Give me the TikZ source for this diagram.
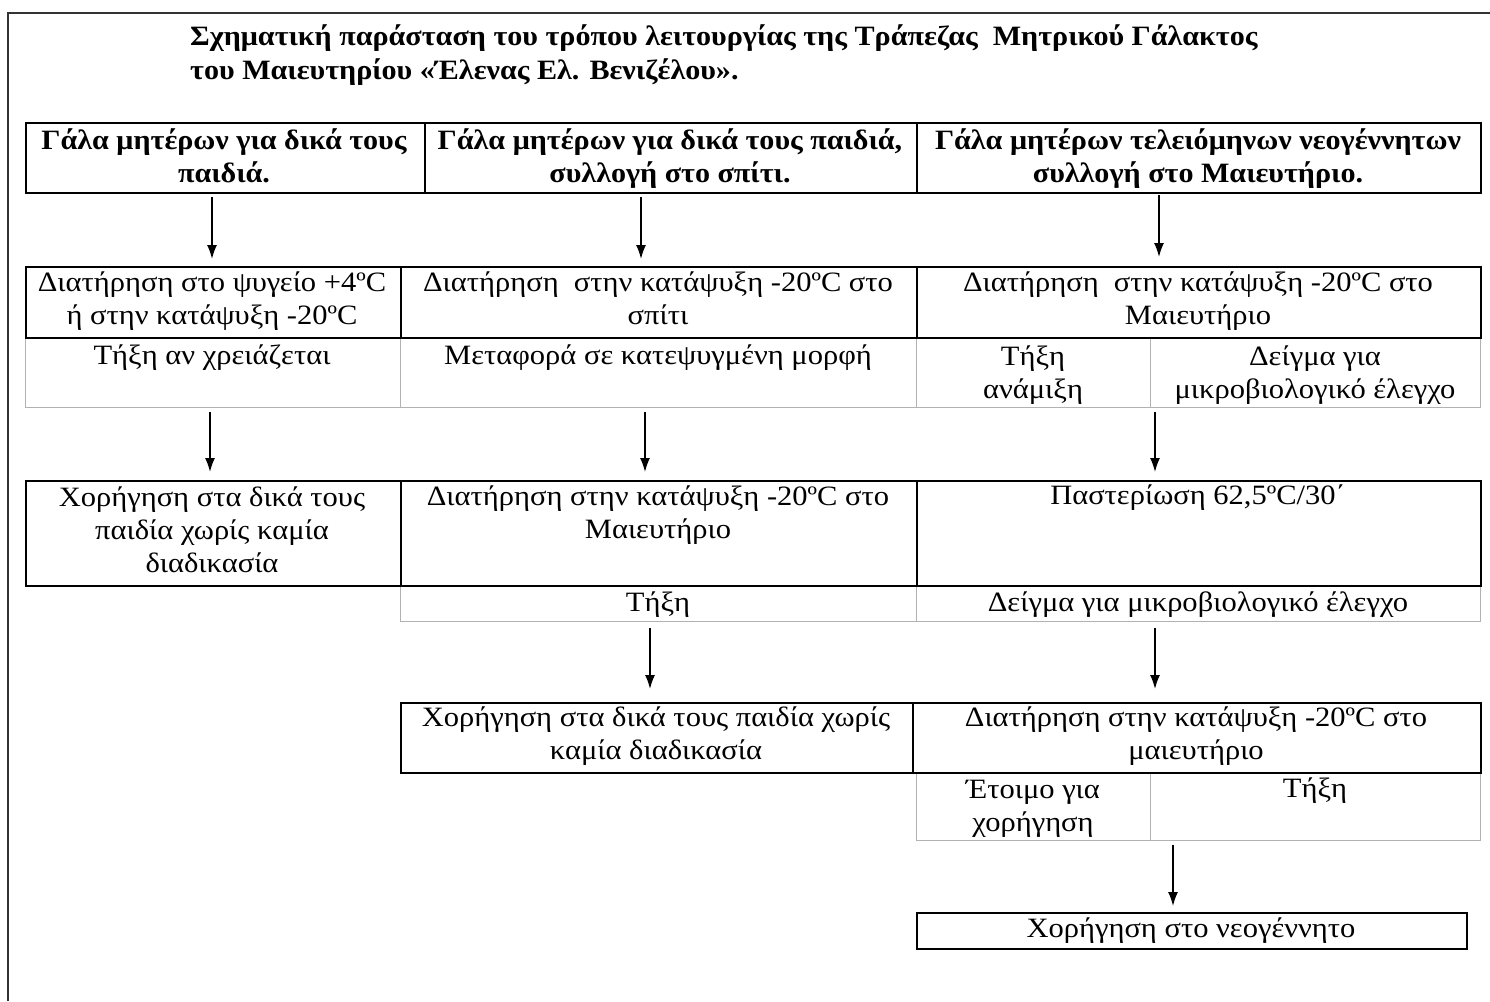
\documentclass[tikz,border=0pt]{standalone}
\usepackage{fontspec}
\setmainfont{Liberation Serif}[FakeStretch=1.09]
\newfontfamily\hdrfont{Liberation Serif}[FakeStretch=1.075]
\usetikzlibrary{arrows.meta}
\begin{document}
\begin{tikzpicture}[x=1pt,y=-1pt,
  every node/.style={font=\fontsize{28}{33}\selectfont, inner sep=0pt, align=center},
  txt/.style={anchor=base},
  hdr/.style={txt, font=\fontsize{28}{33}\selectfont\hdrfont\bfseries},
  ttl/.style={anchor=base west, font=\fontsize{28}{34}\selectfont\hdrfont\bfseries, align=left},
  blk/.style={draw=black, line width=1.8pt, anchor=north west, minimum width=#1},
  gry/.style={draw=black!30, line width=1.4pt, anchor=north west, minimum width=#1},
  arr/.style={line width=1.6pt, -{Latex[length=14pt,width=10pt]}},
  frame/.style={draw=black!80, line width=2pt}]
\useasboundingbox (0,0) rectangle (1490,1001);
% outer frame
\draw[frame] (8,1001) -- (8,13) -- (1490,13);
% title (anchor = baseline of last line)
\node[ttl] (title) at (190,79) {Σχηματική παράσταση του τρόπου λειτουργίας της Τράπεζας\ \ Μητρικού Γάλακτος\\του Μαιευτηρίου «Έλενας Ελ. Βενιζέλου».};
% header row
\node[blk=399pt, minimum height=70pt] (h1) at (25,122) {};
\node[blk=492pt, minimum height=70pt] (h2) at (424,122) {};
\node[blk=564pt, minimum height=70pt] (h3) at (916,122) {};
\node[hdr] (h1t) at (224,182) {Γάλα μητέρων για δικά τους\\παιδιά.};
\node[hdr] (h2t) at (670,182) {Γάλα μητέρων για δικά τους παιδιά,\\συλλογή στο σπίτι.};
\node[hdr] (h3t) at (1198,182) {Γάλα μητέρων τελειόμηνων νεογέννητων\\συλλογή στο Μαιευτήριο.};
% row 2b (grey)
\node[gry=375pt, minimum height=70pt] (g2a) at (25,337) {};
\node[gry=516pt, minimum height=70pt] (g2b) at (400,337) {};
\node[gry=234pt, minimum height=70pt] (g2c) at (916,337) {};
\node[gry=330pt, minimum height=70pt] (g2d) at (1150,337) {};
% row 2 (black)
\node[blk=375pt, minimum height=71pt] (r2a) at (25,266) {};
\node[blk=516pt, minimum height=71pt] (r2b) at (400,266) {};
\node[blk=564pt, minimum height=71pt] (r2c) at (916,266) {};
\node[txt] (r2at) at (212,324) {Διατήρηση στο ψυγείο +4ºC\\ή στην κατάψυξη -20ºC};
\node[txt] (r2bt) at (658,324) {Διατήρηση\ \ στην κατάψυξη -20ºC στο\\σπίτι};
\node[txt] (r2ct) at (1198,324) {Διατήρηση\ \ στην κατάψυξη -20ºC στο\\Μαιευτήριο};
\node[txt] (g2at) at (212,364) {Τήξη αν χρειάζεται};
\node[txt] (g2bt) at (658,364) {Μεταφορά σε κατεψυγμένη μορφή};
\node[txt] (g2ct) at (1033,398) {Τήξη\\ανάμιξη};
\node[txt] (g2dt) at (1315,398) {Δείγμα για\\μικροβιολογικό έλεγχο};
% row 3b (grey)
\node[gry=516pt, minimum height=36pt] (g3b) at (400,585) {};
\node[gry=564pt, minimum height=36pt] (g3c) at (916,585) {};
% row 3 (black)
\node[blk=375pt, minimum height=105pt] (r3a) at (25,480) {};
\node[blk=516pt, minimum height=105pt] (r3b) at (400,480) {};
\node[blk=564pt, minimum height=105pt] (r3c) at (916,480) {};
\node[txt] (r3at) at (212,572) {Χορήγηση στα δικά τους\\παιδία χωρίς καμία\\διαδικασία};
\node[txt] (r3bt) at (658,538) {Διατήρηση στην κατάψυξη -20ºC στο\\Μαιευτήριο};
\node[txt] (r3ct) at (1198,504) {Παστερίωση 62,5ºC/30΄};
\node[txt] (g3bt) at (658,611) {Τήξη};
\node[txt] (g3ct) at (1198,611) {Δείγμα για μικροβιολογικό έλεγχο};
% row 4b (grey)
\node[gry=234pt, minimum height=68pt] (g4a) at (916,772) {};
\node[gry=330pt, minimum height=68pt] (g4b) at (1150,772) {};
% row 4 (black)
\node[blk=512pt, minimum height=70pt] (r4a) at (400,702) {};
\node[blk=568pt, minimum height=70pt] (r4b) at (912,702) {};
\node[txt] (r4at) at (656,759) {Χορήγηση στα δικά τους παιδία χωρίς\\καμία διαδικασία};
\node[txt] (r4bt) at (1196,759) {Διατήρηση στην κατάψυξη -20ºC στο\\μαιευτήριο};
\node[txt] (g4at) at (1033,831) {Έτοιμο για\\χορήγηση};
\node[txt] (g4bt) at (1315,797) {Τήξη};
% final
\node[blk=550pt, minimum height=36pt] (fin) at (916,912) {};
\node[txt] (fint) at (1191,937) {Χορήγηση στο νεογέννητο};
% arrows
\coordinate (a1s) at (212,197); \coordinate (a1e) at (212,259);
\coordinate (a2s) at (641,197); \coordinate (a2e) at (641,259);
\coordinate (a3s) at (1159,195); \coordinate (a3e) at (1159,257);
\coordinate (b1s) at (210,412); \coordinate (b1e) at (210,472);
\coordinate (b2s) at (645,412); \coordinate (b2e) at (645,472);
\coordinate (b3s) at (1155,412); \coordinate (b3e) at (1155,472);
\coordinate (c2s) at (650,628); \coordinate (c2e) at (650,689);
\coordinate (c3s) at (1155,628); \coordinate (c3e) at (1155,689);
\coordinate (d3s) at (1173,845); \coordinate (d3e) at (1173,906);
\foreach \p in {a1,a2,a3,b1,b2,b3,c2,c3,d3}
  \draw[arr] (\p s) -- (\p e);
\end{tikzpicture}
\end{document}
